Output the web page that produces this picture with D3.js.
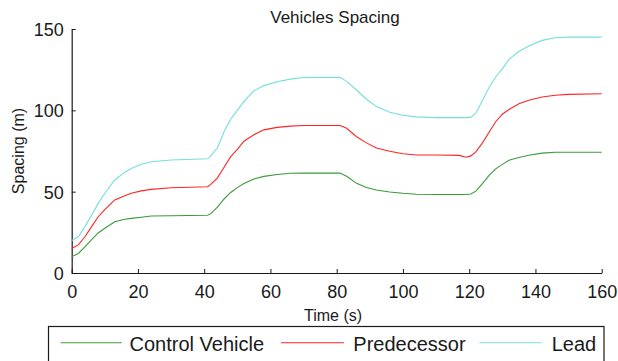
<!DOCTYPE html>
<html>
<head>
<meta charset="utf-8">
<script src="https://cdn.jsdelivr.net/npm/d3@7"></script>
<style>
  html, body { margin: 0; padding: 0; background: #fff; }
  svg { display: block; font-family: "Liberation Sans", Arial, sans-serif; }
</style>
</head>
<body>
<svg id="chart" width="618" height="361"></svg>
<script>
// Sample times (s)
const time = [0, 2, 4, 6, 8, 10, 13, 16, 18, 21, 24, 30, 41, 42, 44, 46, 48, 50, 52, 55, 58, 62, 66, 70,
  81, 83, 86, 89, 92, 96, 100, 104, 110, 117, 119, 120.5, 122, 124, 126, 128, 130, 132, 135, 138, 142, 146, 150, 160];

// Spacing (m) of each vehicle
const controlVehicle = [10, 12, 16, 20.5, 24.6, 27.5, 31.5, 33, 33.6, 34.3, 35, 35.2, 35.5, 36.5, 40.5, 45.5, 49.5, 52.5, 55, 57.8, 59.4, 60.6, 61.3, 61.4,
  61.4, 59.5, 55.1, 52.5, 51, 49.8, 49, 48.4, 48.3, 48.3, 48.3, 48.6, 50.3, 55, 60, 64, 66.8, 69.3, 71, 72.4, 73.7, 74.2, 74.2, 74.2];
const predecessor = [15, 17.3, 22.3, 28.5, 34.6, 39, 44.9, 47.5, 49, 50.5, 51.4, 52.4, 53, 54.5, 58.5, 65, 71.5, 76, 81, 85, 88, 89.5, 90.3, 90.7,
  90.7, 89, 83.8, 80, 76.8, 74.8, 73.3, 72.5, 72.5, 72.3, 71.2, 72, 74.5, 80, 86.5, 93, 97.6, 100.5, 104, 106.2, 108.2, 109.3, 109.8, 110.2];
const lead = [20, 22.3, 28.5, 35.5, 42.8, 49, 57.2, 62, 64.3, 66.8, 68.4, 69.5, 70.2, 72, 77, 87, 94.5, 100, 105.5, 112, 115.2, 117.6, 119.2, 120.2,
  120.3, 117.8, 112.5, 106.8, 102.3, 98.8, 97, 96, 95.5, 95.5, 95.5, 95.8, 98.2, 106, 114, 120.5, 125.5, 131.3, 136.2, 139.5, 143, 144.6, 145, 145];

const seriesNames = ["Control Vehicle", "Predecessor", "Lead"];
const seriesValues = [controlVehicle, predecessor, lead];
const seriesColors = ["#3a9a3a", "#ff2424", "#74dede"];

const xTicks = [0, 20, 40, 60, 80, 100, 120, 140, 160];
const yTicks = [0, 50, 100, 150];

const svg = d3.select("#chart");
const ink = "#1a1a1a";

const x = d3.scaleLinear().domain([0, 160]).range([71.7, 601.7]);
const y = d3.scaleLinear().domain([0, 150]).range([273, 29]);

// Axes: ticks point into the plot area
const xAxis = d3.axisBottom(x).tickValues(xTicks).tickSizeInner(-4).tickSizeOuter(0).tickPadding(9);
const yAxis = d3.axisLeft(y).tickValues(yTicks).tickSizeInner(-4).tickSizeOuter(0).tickPadding(8);

const gx = svg.append("g").attr("transform", `translate(0,${y(0)})`).call(xAxis);
const gy = svg.append("g").attr("transform", `translate(${x(0)},0)`).call(yAxis);

[gx, gy].forEach(g => {
  g.select(".domain").attr("stroke", ink).attr("stroke-width", 1.2);
  g.selectAll(".tick line").attr("stroke", ink).attr("stroke-width", 1);
  g.selectAll(".tick text").attr("fill", ink).attr("font-size", 18)
    .attr("font-family", "'Liberation Sans', Arial, sans-serif");
});
gx.selectAll(".tick text").attr("dy", "0.71em").attr("y", 12);
gy.selectAll(".tick text").attr("x", -8).attr("dy", "0.36em");

// Series lines
const line = d3.line().x((d, i) => x(time[i])).y(d => y(d));
seriesValues.forEach((vals, k) => {
  svg.append("path")
    .datum(vals)
    .attr("fill", "none")
    .attr("stroke", seriesColors[k])
    .attr("stroke-width", 1.1)
    .attr("d", line);
});

// Title and axis labels
svg.append("text").attr("x", 335).attr("y", 22.5).attr("text-anchor", "middle")
  .attr("font-size", 17).attr("fill", ink).text("Vehicles Spacing");
svg.append("text").attr("x", 333).attr("y", 320.5).attr("text-anchor", "middle")
  .attr("font-size", 16).attr("fill", ink).text("Time (s)");
svg.append("text").attr("transform", "translate(24.2,151) rotate(-90)").attr("text-anchor", "middle")
  .attr("font-size", 16).attr("fill", ink).text("Spacing (m)");

// Legend
const legend = svg.append("g");
legend.append("rect").attr("x", 48.5).attr("y", 326.5).attr("width", 555.5).attr("height", 60)
  .attr("fill", "#fff").attr("stroke", ink).attr("stroke-width", 1.2);
const legendItems = [
  { x0: 60.7, x1: 121.7, tx: 129.5 },
  { x0: 281, x1: 344, tx: 353.3 },
  { x0: 479.3, x1: 541.7, tx: 551.7 }
];
legendItems.forEach((it, k) => {
  legend.append("line").attr("x1", it.x0).attr("x2", it.x1).attr("y1", 342.7).attr("y2", 342.7)
    .attr("stroke", seriesColors[k]).attr("stroke-width", 1.1);
  legend.append("text").attr("x", it.tx).attr("y", 351.3).attr("font-size", 20)
    .attr("fill", ink).text(seriesNames[k]);
});
</script>
</body>
</html>
